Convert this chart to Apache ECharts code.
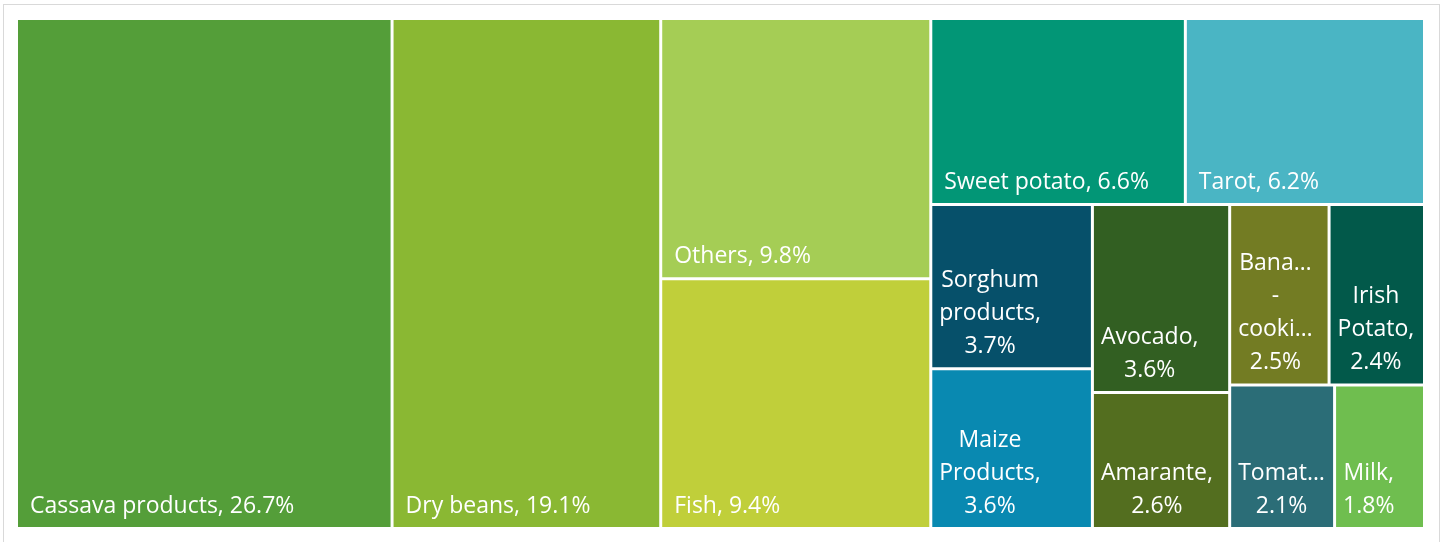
<!DOCTYPE html>
<html>
<head>
<meta charset="utf-8">
<script src="https://cdn.jsdelivr.net/npm/echarts@6/dist/echarts.min.js"></script>
<style>
  html, body { margin: 0; padding: 0; background: #ffffff; }
  #chart { position: absolute; left: 0; top: 0; width: 1445px; height: 542px; }
  #frame { position: absolute; left: 3px; top: 4px; width: 1437px; height: 560px;
           border: 1px solid #d9d9d9; box-sizing: border-box; pointer-events: none; }
</style>
</head>
<body>
<div id="frame"></div>
<div id="chart"></div>
<script>
// Share of each food item (%)
const names = ['Cassava products', 'Dry beans', 'Others', 'Fish', 'Sweet potato', 'Tarot',
  'Sorghum products', 'Maize Products', 'Avocado', 'Amarante', 'Banana - cooking',
  'Irish Potato', 'Tomato', 'Milk'];
const values = [26.7, 19.1, 9.8, 9.4, 6.6, 6.2, 3.7, 3.6, 3.6, 2.6, 2.5, 2.4, 2.1, 1.8];
// Name part of each tile label as it is printed (wrapped / shortened for narrow tiles)
const labelNames = ['Cassava products,', 'Dry beans,', 'Others,', 'Fish,', 'Sweet potato,', 'Tarot,',
  'Sorghum\nproducts,', 'Maize\nProducts,', 'Avocado,', 'Amarante,', 'Bana\u2026\n-\ncooki\u2026',
  'Irish\nPotato,', 'Tomat\u2026', 'Milk,'];
const colors = ['#549E39', '#8AB833', '#A5CD55', '#C0CF3A', '#029676', '#4AB5C4',
  '#06506A', '#0989B1', '#325F22', '#536E1F', '#737C23', '#02594A', '#2B6D77', '#6FBE4F'];

const FONT_SIZE = 23;
const FONT_FAMILY = '"Open Sans", "Noto Sans", sans-serif';
const LINE_HEIGHT = 33;
const LABEL_DROP = 8;
const STACK_BELOW = 5; // tiles under this share get their label stacked on several lines

const measureCtx = document.createElement('canvas').getContext('2d');
measureCtx.font = FONT_SIZE + 'px ' + FONT_FAMILY;

function labelText(i) {
  const stacked = values[i] < STACK_BELOW;
  return labelNames[i] + (stacked ? '\n' : ' ') + values[i].toFixed(1) + '%';
}

const data = names.map(function (name, i) {
  const stacked = values[i] < STACK_BELOW;
  const text = labelText(i);
  let label = { formatter: text };
  if (stacked) {
    // lines centred within the text block, block kept at the tile's left side
    const blockWidth = Math.max.apply(null, text.split('\n').map(function (l) {
      return measureCtx.measureText(l).width;
    }));
    label = { formatter: text, align: 'center', offset: [blockWidth / 2, LABEL_DROP] };
  }
  return { name: name, value: values[i], itemStyle: { color: colors[i] }, label: label };
});

const chart = echarts.init(document.getElementById('chart'), null, { renderer: 'canvas' });
chart.setOption({
  animation: false,
  series: [{
    type: 'treemap',
    left: 18, top: 20, right: 22, bottom: 15,
    roam: false,
    nodeClick: false,
    sort: false,
    squareRatio: 1,
    visibleMin: 0,
    breadcrumb: { show: false },
    itemStyle: { borderWidth: 0, gapWidth: 3, borderColor: '#ffffff' },
    label: {
      show: true,
      position: 'insideBottomLeft',
      distance: 7,
      offset: [0, LABEL_DROP],
      color: '#ffffff',
      fontFamily: FONT_FAMILY,
      fontSize: FONT_SIZE,
      lineHeight: LINE_HEIGHT,
      overflow: 'none'
    },
    emphasis: { disabled: true },
    data: data
  }]
});
</script>
</body>
</html>
